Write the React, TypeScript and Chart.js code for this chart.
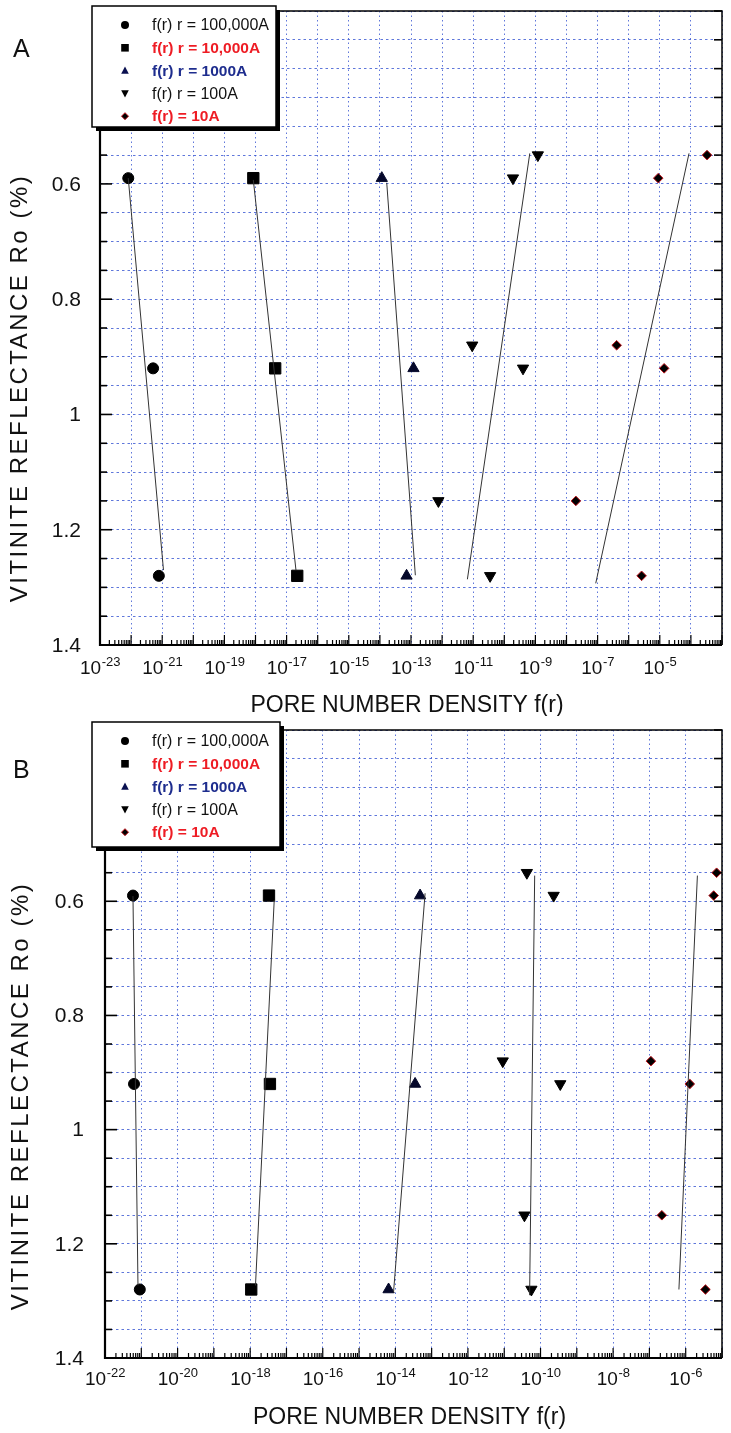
import React, { useEffect, useRef } from 'react';
import { Chart, registerables } from 'chart.js';

Chart.register(...registerables);

// ---------------- data ----------------
const SERIES_LABELS = ['f(r) r = 100,000A', 'f(r) r = 10,000A', 'f(r) r = 1000A', 'f(r) r = 100A', 'f(r) = 10A'];
const LEGEND_COLORS = ['#111111', '#ee1c24', '#1e2d8e', '#111111', '#ee1c24'];
const LEGEND_BOLD = [false, true, true, false, true];

const Y_RANGE = [0.3, 1.4];
const Y_LABELS = [0.6, 0.8, 1, 1.2, 1.4];
const Y_TITLE = 'VITINITE REFLECTANCE Ro (%)';
const X_TITLE = 'PORE NUMBER DENSITY f(r)';

// Panel A
const A_X_RANGE = [1e-23, 1e-3];
const A_X_LABEL_EXPS = [-23, -21, -19, -17, -15, -13, -11, -9, -7, -5];

const A_CIRCLE_X = [8.1e-23, 5.1e-22, 7.8e-22];
const A_CIRCLE_Y = [0.59, 0.92, 1.28];
const A_CIRCLE_FIT_X = [8.1e-23, 1.1e-21];
const A_CIRCLE_FIT_Y = [0.59, 1.27];

const A_SQUARE_X = [8.5e-19, 4.3e-18, 2.2e-17];
const A_SQUARE_Y = [0.59, 0.92, 1.28];
const A_SQUARE_FIT_X = [8.5e-19, 2.0e-17];
const A_SQUARE_FIT_Y = [0.593, 1.27];

const A_UP_X = [1.15e-14, 1.2e-13, 7.2e-14];
const A_UP_Y = [0.59, 0.92, 1.28];
const A_UP_FIT_X = [1.66e-14, 1.38e-13];
const A_UP_FIT_Y = [0.598, 1.279];

const A_DOWN_X = [1.2e-9, 1.9e-10, 9.3e-12, 4.0e-10, 7.6e-13, 3.5e-11];
const A_DOWN_Y = [0.55, 0.59, 0.88, 0.92, 1.15, 1.28];
const A_DOWN_FIT_X = [6.6e-10, 6.5e-12];
const A_DOWN_FIT_Y = [0.547, 1.286];

const A_DIAMOND_X = [3.3e-4, 8.9e-6, 4.1e-7, 1.38e-5, 2.0e-8, 2.6e-6];
const A_DIAMOND_Y = [0.55, 0.59, 0.88, 0.92, 1.15, 1.28];
const A_DIAMOND_FIT_X = [8.7e-5, 8.7e-8];
const A_DIAMOND_FIT_Y = [0.547, 1.293];

// Panel B
const B_X_RANGE = [1e-22, 1e-5];
const B_X_LABEL_EXPS = [-22, -20, -18, -16, -14, -12, -10, -8, -6];

const B_CIRCLE_X = [5.9e-22, 6.3e-22, 9.1e-22];
const B_CIRCLE_Y = [0.59, 0.92, 1.28];
const B_CIRCLE_FIT_X = [5.9e-22, 8.1e-22];
const B_CIRCLE_FIT_Y = [0.591, 1.273];

const B_SQUARE_X = [3.3e-18, 3.5e-18, 1.07e-18];
const B_SQUARE_Y = [0.59, 0.92, 1.28];
const B_SQUARE_FIT_X = [4.6e-18, 1.4e-18];
const B_SQUARE_FIT_Y = [0.598, 1.273];

const B_UP_X = [4.8e-14, 3.5e-14, 6.5e-15];
const B_UP_Y = [0.59, 0.92, 1.28];
const B_UP_FIT_X = [6.6e-14, 8.9e-15];
const B_UP_FIT_Y = [0.586, 1.285];

const B_DOWN_X = [4.2e-11, 2.3e-10, 9.1e-12, 3.5e-10, 3.6e-11, 5.6e-11];
const B_DOWN_Y = [0.55, 0.59, 0.88, 0.92, 1.15, 1.28];
const B_DOWN_FIT_X = [6.9e-11, 5.0e-11];
const B_DOWN_FIT_Y = [0.555, 1.29];

const B_DIAMOND_X = [7.1e-6, 5.9e-6, 1.1e-7, 1.3e-6, 2.2e-7, 3.5e-6];
const B_DIAMOND_Y = [0.55, 0.59, 0.88, 0.92, 1.15, 1.28];
const B_DIAMOND_FIT_X = [2.1e-6, 6.5e-7];
const B_DIAMOND_FIT_Y = [0.555, 1.28];

// ---------------- styles ----------------
const FONT = '"Liberation Sans", Arial, Helvetica, sans-serif';
const GRID_COLOR = 'rgba(55,85,210,0.8)';

const MARKERS = [
  { pointStyle: 'circle', radius: 5.5, rotation: 0, bg: '#000000', border: '#000000' },
  { pointStyle: 'rect', radius: 8, rotation: 0, bg: '#000000', border: '#000000' },
  { pointStyle: 'triangle', radius: 6.5, rotation: 0, bg: '#05082a', border: '#05082a' },
  { pointStyle: 'triangle', radius: 6.5, rotation: 180, bg: '#000000', border: '#000000' },
  { pointStyle: 'rectRot', radius: 4.8, rotation: 0, bg: '#000000', border: '#c0141c' },
];

type Series = { x: number[]; y: number[]; fitX: number[]; fitY: number[] };

type PanelCfg = {
  letter: string;
  letterBaseline: number;
  top: number;
  height: number;
  padding: { left: number; right: number; top: number; bottom: number };
  xRange: number[];
  xLabelExps: number[];
  series: Series[];
  yLabelRight: number;
  xLabelOffset: number;
  xTitleBaseline: number;
  yTitleX: number;
  yTitleCenter: number;
  legend: { x: number; y: number; w: number; h: number };
};

const PANEL_A: PanelCfg = {
  letter: 'A',
  letterBaseline: 57,
  top: 0,
  height: 716,
  padding: { left: 100, right: 6, top: 11, bottom: 71 },
  xRange: A_X_RANGE,
  xLabelExps: A_X_LABEL_EXPS,
  series: [
    { x: A_CIRCLE_X, y: A_CIRCLE_Y, fitX: A_CIRCLE_FIT_X, fitY: A_CIRCLE_FIT_Y },
    { x: A_SQUARE_X, y: A_SQUARE_Y, fitX: A_SQUARE_FIT_X, fitY: A_SQUARE_FIT_Y },
    { x: A_UP_X, y: A_UP_Y, fitX: A_UP_FIT_X, fitY: A_UP_FIT_Y },
    { x: A_DOWN_X, y: A_DOWN_Y, fitX: A_DOWN_FIT_X, fitY: A_DOWN_FIT_Y },
    { x: A_DIAMOND_X, y: A_DIAMOND_Y, fitX: A_DIAMOND_FIT_X, fitY: A_DIAMOND_FIT_Y },
  ],
  yLabelRight: 81,
  xLabelOffset: 29,
  xTitleBaseline: 712,
  yTitleX: 20,
  yTitleCenter: 388,
  legend: { x: 92, y: 6, w: 184, h: 121 },
};

const PANEL_B: PanelCfg = {
  letter: 'B',
  letterBaseline: 62,
  top: 716,
  height: 717,
  padding: { left: 105, right: 6, top: 14, bottom: 75 },
  xRange: B_X_RANGE,
  xLabelExps: B_X_LABEL_EXPS,
  series: [
    { x: B_CIRCLE_X, y: B_CIRCLE_Y, fitX: B_CIRCLE_FIT_X, fitY: B_CIRCLE_FIT_Y },
    { x: B_SQUARE_X, y: B_SQUARE_Y, fitX: B_SQUARE_FIT_X, fitY: B_SQUARE_FIT_Y },
    { x: B_UP_X, y: B_UP_Y, fitX: B_UP_FIT_X, fitY: B_UP_FIT_Y },
    { x: B_DOWN_X, y: B_DOWN_Y, fitX: B_DOWN_FIT_X, fitY: B_DOWN_FIT_Y },
    { x: B_DIAMOND_X, y: B_DIAMOND_Y, fitX: B_DIAMOND_FIT_X, fitY: B_DIAMOND_FIT_Y },
  ],
  yLabelRight: 84,
  xLabelOffset: 27,
  xTitleBaseline: 708,
  yTitleX: 21,
  yTitleCenter: 380,
  legend: { x: 92, y: 6, w: 188, h: 125 },
};

function yGridValues(): number[] {
  const out: number[] = [];
  const lo = Math.round(Y_RANGE[0] * 20);
  const hi = Math.round(Y_RANGE[1] * 20);
  for (let i = lo; i <= hi; i++) out.push(i / 20);
  return out;
}

function drawMarker(ctx: CanvasRenderingContext2D, kind: number, x: number, y: number, s: number) {
  ctx.beginPath();
  if (kind === 0) {
    ctx.arc(x, y, s, 0, Math.PI * 2);
  } else if (kind === 1) {
    ctx.rect(x - s, y - s, 2 * s, 2 * s);
  } else if (kind === 2) {
    ctx.moveTo(x, y - s * 1.1);
    ctx.lineTo(x + s, y + s * 0.8);
    ctx.lineTo(x - s, y + s * 0.8);
    ctx.closePath();
  } else if (kind === 3) {
    ctx.moveTo(x, y + s * 1.1);
    ctx.lineTo(x + s, y - s * 0.8);
    ctx.lineTo(x - s, y - s * 0.8);
    ctx.closePath();
  } else {
    ctx.moveTo(x, y - s);
    ctx.lineTo(x + s, y);
    ctx.lineTo(x, y + s);
    ctx.lineTo(x - s, y);
    ctx.closePath();
  }
  ctx.fillStyle = kind === 2 ? '#0a1050' : '#000';
  ctx.fill();
  if (kind === 4) {
    ctx.strokeStyle = '#c0141c';
    ctx.lineWidth = 1;
    ctx.stroke();
  }
}

function makeDecor(cfg: PanelCfg) {
  return {
    id: 'decor',
    afterDraw(chart: any) {
      const ctx: CanvasRenderingContext2D = chart.ctx;
      const { left, right, top, bottom } = chart.chartArea;
      const xs = chart.scales.x;
      const ys = chart.scales.y;
      ctx.save();

      // frame
      ctx.strokeStyle = '#000';
      ctx.lineWidth = 1.5;
      ctx.beginPath();
      ctx.moveTo(left, top);
      ctx.lineTo(right, top);
      ctx.lineTo(right, bottom);
      ctx.stroke();
      ctx.lineWidth = 2.2;
      ctx.beginPath();
      ctx.moveTo(left, top);
      ctx.lineTo(left, bottom);
      ctx.lineTo(right, bottom);
      ctx.stroke();

      // y ticks (inward)
      ctx.lineWidth = 1.6;
      for (const v of yGridValues()) {
        const py = ys.getPixelForValue(v);
        const major = Y_LABELS.some((l) => Math.abs(l - v) < 1e-6);
        ctx.beginPath();
        ctx.moveTo(left, py);
        ctx.lineTo(left + (major ? 12 : 7), py);
        ctx.stroke();
        ctx.beginPath();
        ctx.moveTo(right, py);
        ctx.lineTo(right - 8, py);
        ctx.stroke();
      }

      // x ticks (inward)
      const eMin = Math.round(Math.log10(cfg.xRange[0]));
      const eMax = Math.round(Math.log10(cfg.xRange[1]));
      ctx.lineWidth = 1.2;
      for (let e = eMin; e <= eMax; e++) {
        const base = Number('1e' + e);
        const px = xs.getPixelForValue(base);
        ctx.beginPath();
        ctx.moveTo(px, bottom);
        ctx.lineTo(px, bottom - 10);
        ctx.stroke();
        if (e < eMax) {
          for (let k = 2; k <= 9; k++) {
            const mx = xs.getPixelForValue(k * base);
            ctx.beginPath();
            ctx.moveTo(mx, bottom);
            ctx.lineTo(mx, bottom - 5);
            ctx.stroke();
          }
        }
      }

      // y tick labels
      ctx.fillStyle = '#111';
      ctx.font = `21px ${FONT}`;
      ctx.textAlign = 'right';
      ctx.textBaseline = 'middle';
      for (const v of Y_LABELS) {
        const py = ys.getPixelForValue(v);
        ctx.fillText(String(v), cfg.yLabelRight, py + 1);
      }

      // x tick labels 10^e
      ctx.textAlign = 'left';
      ctx.textBaseline = 'alphabetic';
      for (const e of cfg.xLabelExps) {
        const px = xs.getPixelForValue(Number('1e' + e));
        ctx.font = `19px ${FONT}`;
        const wBase = ctx.measureText('10').width;
        ctx.font = `13px ${FONT}`;
        const expStr = String(e);
        const wExp = ctx.measureText(expStr).width;
        const x0 = px - (wBase + wExp) / 2;
        const by = bottom + cfg.xLabelOffset;
        ctx.font = `19px ${FONT}`;
        ctx.fillText('10', x0, by);
        ctx.font = `13px ${FONT}`;
        ctx.fillText(expStr, x0 + wBase + 0.5, by - 8);
      }

      // x title
      ctx.font = `23px ${FONT}`;
      ctx.textAlign = 'center';
      ctx.fillText(X_TITLE, (left + right) / 2 - 4, cfg.xTitleBaseline);

      // y title
      ctx.save();
      ctx.translate(cfg.yTitleX, cfg.yTitleCenter);
      ctx.rotate(-Math.PI / 2);
      ctx.font = `24px ${FONT}`;
      (ctx as any).letterSpacing = '2.5px';
      ctx.textAlign = 'center';
      ctx.textBaseline = 'middle';
      ctx.fillText(Y_TITLE, 0, 0);
      ctx.restore();

      // panel letter
      ctx.font = `25px ${FONT}`;
      ctx.textAlign = 'left';
      ctx.textBaseline = 'alphabetic';
      ctx.fillStyle = '#111';
      ctx.fillText(cfg.letter, 13, cfg.letterBaseline);

      // legend box
      const L = cfg.legend;
      ctx.fillStyle = '#000';
      ctx.fillRect(L.x + 4, L.y + 4, L.w, L.h);
      ctx.fillStyle = '#fff';
      ctx.fillRect(L.x, L.y, L.w, L.h);
      ctx.strokeStyle = '#000';
      ctx.lineWidth = 1.5;
      ctx.strokeRect(L.x, L.y, L.w, L.h);

      SERIES_LABELS.forEach((label, i) => {
        const ry = L.y + 19 + i * 22.8;
        drawMarker(ctx, i, 125, ry, i === 0 ? 4 : i === 4 ? 3.5 : 3.8);
        ctx.fillStyle = LEGEND_COLORS[i];
        ctx.font = `${LEGEND_BOLD[i] ? 'bold 15.5px' : '16px'} ${FONT}`;
        ctx.textAlign = 'left';
        ctx.textBaseline = 'middle';
        ctx.fillText(label, 152, ry + 1);
      });

      ctx.restore();
    },
  };
}

function Panel({ cfg }: { cfg: PanelCfg }) {
  const ref = useRef<HTMLCanvasElement | null>(null);

  useEffect(() => {
    if (!ref.current) return;
    const datasets: any[] = [];
    cfg.series.forEach((s, i) => {
      datasets.push({
        label: SERIES_LABELS[i] + ' fit',
        data: s.fitX.map((x, j) => ({ x, y: s.fitY[j] })),
        showLine: true,
        borderColor: '#333',
        borderWidth: 1,
        pointRadius: 0,
        fill: false,
      });
    });
    cfg.series.forEach((s, i) => {
      const m = MARKERS[i];
      datasets.push({
        label: SERIES_LABELS[i],
        data: s.x.map((x, j) => ({ x, y: s.y[j] })),
        showLine: false,
        pointStyle: m.pointStyle,
        pointRadius: m.radius,
        pointRotation: m.rotation,
        backgroundColor: m.bg,
        borderColor: m.border,
        pointBorderColor: m.border,
        pointBackgroundColor: m.bg,
        pointBorderWidth: 1,
      });
    });

    const eMin = Math.round(Math.log10(cfg.xRange[0]));
    const eMax = Math.round(Math.log10(cfg.xRange[1]));
    const decades: number[] = [];
    for (let e = eMin; e <= eMax; e++) decades.push(Number('1e' + e));

    const chart = new Chart(ref.current, {
      type: 'scatter',
      data: { datasets },
      options: {
        animation: false,
        responsive: false,
        devicePixelRatio: 1,
        events: [],
        layout: { padding: cfg.padding },
        plugins: { legend: { display: false }, tooltip: { enabled: false } },
        scales: {
          x: {
            type: 'logarithmic',
            min: cfg.xRange[0],
            max: cfg.xRange[1],
            afterBuildTicks: (scale: any) => {
              scale.ticks = decades.map((v) => ({ value: v }));
            },
            ticks: { display: false },
            grid: { color: GRID_COLOR, lineWidth: 1, drawTicks: false },
            border: { display: false, dash: [1.5, 3] },
          },
          y: {
            type: 'linear',
            reverse: true,
            min: Y_RANGE[0],
            max: Y_RANGE[1],
            afterBuildTicks: (scale: any) => {
              scale.ticks = yGridValues().map((v) => ({ value: v }));
            },
            ticks: { display: false },
            grid: { color: GRID_COLOR, lineWidth: 1, drawTicks: false },
            border: { display: false, dash: [2.5, 3] },
          },
        },
      } as any,
      plugins: [makeDecor(cfg)],
    });
    return () => chart.destroy();
  }, [cfg]);

  return (
    <canvas
      ref={ref}
      width={731}
      height={cfg.height}
      style={{ position: 'absolute', left: 0, top: cfg.top, width: 731, height: cfg.height, display: 'block' }}
    />
  );
}

export default function App() {
  return (
    <div style={{ position: 'absolute', left: 0, top: 0, width: 731, height: 1433, background: '#ffffff', overflow: 'hidden' }}>
      <Panel cfg={PANEL_A} />
      <Panel cfg={PANEL_B} />
    </div>
  );
}
